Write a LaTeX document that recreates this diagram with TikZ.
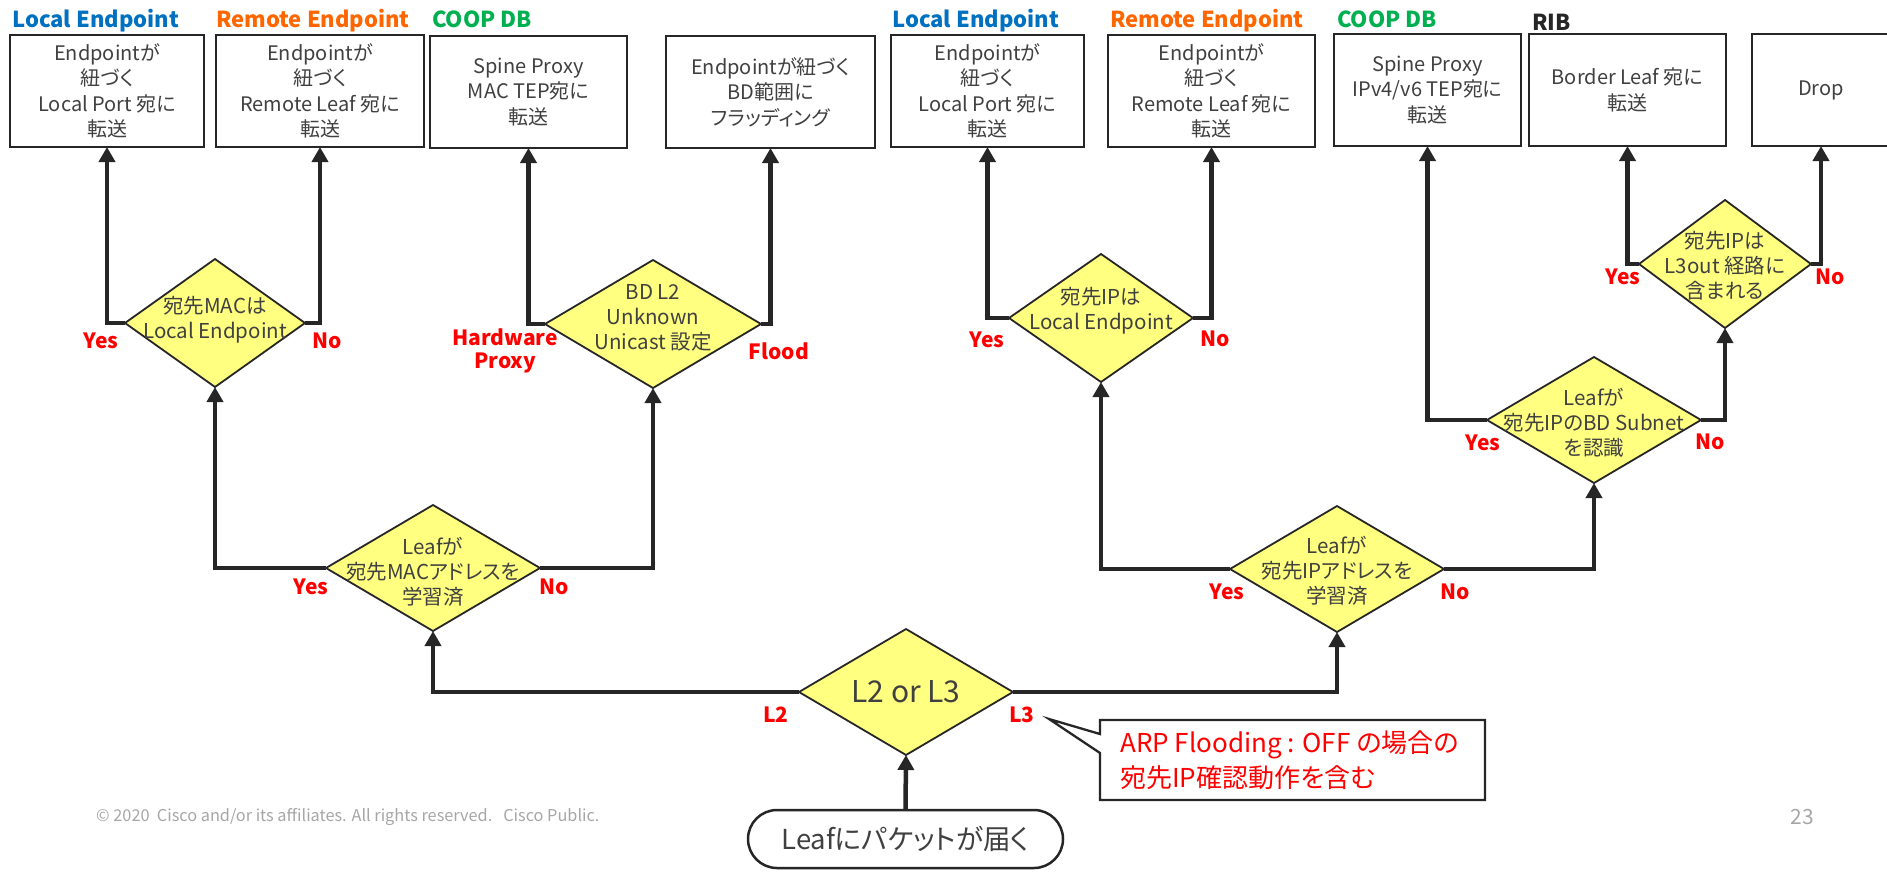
\documentclass[tikz,border=0pt]{standalone}
\usepackage{fontspec}
\setmainfont{Noto Sans CJK JP}[RawFeature=+palt]
\usetikzlibrary{arrows.meta,shapes.geometric,calc}
\definecolor{ink}{RGB}{38,38,38}
\definecolor{txt}{RGB}{64,64,64}
\definecolor{dfill}{RGB}{255,255,128}
\definecolor{lblue}{RGB}{0,112,192}
\definecolor{lorange}{RGB}{255,102,0}
\definecolor{lgreen}{RGB}{0,176,80}
\definecolor{yesred}{RGB}{255,0,0}
\definecolor{foot}{RGB}{166,166,166}
\begin{document}
\begin{tikzpicture}[x=1pt,y=-1pt,
  box/.style={draw=ink, line width=2.5pt, fill=white, rectangle, inner sep=0pt, outer sep=0pt,
    minimum height=112pt, align=center, text=txt, font=\fontsize{20}{25.5}\selectfont},
  dia/.style={draw=ink, line width=1.8pt, fill=dfill, shape=diamond, inner sep=0pt, outer sep=0pt},
  dtext/.style={align=center, text=txt, inner sep=0pt, font=\fontsize{20.5}{25}\selectfont},
  conn/.style={draw=ink, line width=4.5pt, -{Triangle[length=15pt,width=16pt]}},
  hdr/.style={anchor=base west, inner sep=0pt, font=\fontsize{22}{26}\selectfont\bfseries},
  yn/.style={text=yesred, inner sep=0pt, align=center, font=\fontsize{21}{23}\selectfont\bfseries},
]
\useasboundingbox (0,0) rectangle (1887,871);

% column headers
\node[hdr, text=lblue]   (h1) at (12,27)   {Local Endpoint};
\node[hdr, text=lorange] (h2) at (216,27)  {Remote Endpoint};
\node[hdr, text=lgreen]  (h3) at (432,27)  {COOP DB};
\node[hdr, text=lblue]   (h4) at (892,27)  {Local Endpoint};
\node[hdr, text=lorange] (h5) at (1110,27) {Remote Endpoint};
\node[hdr, text=lgreen]  (h6) at (1337,27) {COOP DB};
\node[hdr, text=ink]     (h7) at (1532,30) {RIB};

% result boxes
\node[box, minimum width=194pt] (b1) at (107,91)    {Endpointが\\紐づく\\Local Port 宛に\\転送};
\node[box, minimum width=208pt] (b2) at (320,91)    {Endpointが\\紐づく\\Remote Leaf 宛に\\転送};
\node[box, minimum width=197pt] (b3) at (528.5,92)  {Spine Proxy\\MAC TEP宛に\\転送};
\node[box, minimum width=209pt] (b4) at (770.5,92)  {Endpointが紐づく\\BD範囲に\\フラッディング};
\node[box, minimum width=193pt] (b5) at (987.5,91)  {Endpointが\\紐づく\\Local Port 宛に\\転送};
\node[box, minimum width=207pt] (b6) at (1211.5,91) {Endpointが\\紐づく\\Remote Leaf 宛に\\転送};
\node[box, minimum width=187pt] (b7) at (1427.5,90) {Spine Proxy\\IPv4/v6 TEP宛に\\転送};
\node[box, minimum width=197pt] (b8) at (1627.5,90) {Border Leaf 宛に\\転送};
\node[box, minimum width=138pt] (b9) at (1821,90)   {Drop};

% decisions
\node[dia, minimum width=180pt, minimum height=128pt] (d1) at (215,323)  {};
\node[dia, minimum width=216pt, minimum height=128pt] (d2) at (653,324)  {};
\node[dia, minimum width=184pt, minimum height=128pt] (d3) at (1101,318) {};
\node[dia, minimum width=172pt, minimum height=128pt] (d4) at (1725,264) {};
\node[dia, minimum width=214pt, minimum height=126pt] (d5) at (1594,420) {};
\node[dia, minimum width=214pt, minimum height=126pt] (d6) at (433,568)  {};
\node[dia, minimum width=214pt, minimum height=126pt] (d7) at (1337,569) {};
\node[dia, minimum width=214pt, minimum height=126pt] (d8) at (906,692)  {};

\node[dtext] (t1) at (215,320)  {宛先MACは\\Local Endpoint};
\node[dtext] (t2) at (653,318)  {BD L2\\Unknown\\Unicast 設定};
\node[dtext] (t3) at (1101,311) {宛先IPは\\Local Endpoint};
\node[dtext] (t4) at (1725,266) {宛先IPは\\L3out 経路に\\含まれる};
\node[dtext] (t5) at (1594,423) {Leafが\\宛先IPのBD Subnet\\を認識};
\node[dtext] (t6) at (433,572)  {Leafが\\宛先MACアドレスを\\学習済};
\node[dtext] (t7) at (1337,571) {Leafが\\宛先IPアドレスを\\学習済};
\node[dtext, font=\fontsize{30}{34}\selectfont] (t8) at (906,692) {L2 or L3};

% entry point
\node[draw=ink, line width=2.5pt, fill=white, rounded corners=29pt, minimum width=315pt,
  minimum height=58pt, inner sep=0pt, outer sep=0pt, text=txt,
  font=\fontsize{27.5}{32}\selectfont] (start) at (905.5,839) {Leafにパケットが届く};

% connectors
\draw[conn] (start.north) -- (d8.south);
\draw[conn] (d8.west) -| (d6.south);
\draw[conn] (d8.east) -| (d7.south);
\draw[conn] (d6.west) -| (d1.south);
\draw[conn] (d6.east) -| (d2.south);
\draw[conn] (d7.west) -| (d3.south);
\draw[conn] (d7.east) -| (d5.south);
\draw[conn] (d5.west) -| (b7.south);
\draw[conn] (d5.east) -| (d4.south);
\draw[conn] (d1.west) -| (b1.south);
\draw[conn] (d1.east) -| (b2.south);
\draw[conn] (d2.west) -| (b3.south);
\draw[conn] (d2.east) -| (b4.south);
\draw[conn] (d3.west) -| (b5.south);
\draw[conn] (d3.east) -| (b6.south);
\draw[conn] (d4.west) -| (b8.south);
\draw[conn] (d4.east) -| (b9.south);

% branch labels
\node[yn] (y1) at (101,341)  {Yes};
\node[yn] (n1) at (327,341)  {No};
\node[yn] (y2) at (505,351)  {Hardware\\Proxy};
\node[yn] (n2) at (779,351)  {Flood};
\node[yn] (y3) at (987,340)  {Yes};
\node[yn] (n3) at (1215,339) {No};
\node[yn] (y4) at (1623,277) {Yes};
\node[yn] (n4) at (1830,277) {No};
\node[yn] (y5) at (1483,443) {Yes};
\node[yn] (n5) at (1710,442) {No};
\node[yn] (y6) at (311,587)  {Yes};
\node[yn] (n6) at (554,587)  {No};
\node[yn] (y7) at (1227,592) {Yes};
\node[yn] (n7) at (1455,592) {No};
\node[yn] (l2) at (776,715)  {L2};
\node[yn] (l3) at (1022,715) {L3};

% note with pointer
\node[inner sep=0pt, outer sep=0pt, minimum width=385pt, minimum height=80pt] (frame) at (1292.5,760) {};
\node[anchor=west, inner sep=0pt, align=left, text=yesred, font=\fontsize{26}{35}\selectfont]
  (note) at (1120,760.5) {ARP Flooding : OFF の場合の\\宛先IP確認動作を含む};
\coordinate (tip) at (1049,719);
\draw[draw=ink, line width=2.3pt, line join=miter]
  (frame.north west) -- (frame.north east) -- (frame.south east) -- (frame.south west)
  -- ($(frame.north west)+(0,33)$) -- (tip) -- ($(frame.north west)+(0,14)$) -- cycle;

% footer
\node[anchor=west, text=foot, inner sep=0pt, font=\fontsize{16.3}{19}\selectfont] (copy) at (96,817)
  {© 2020\ \ Cisco and/or its affiliates. All rights reserved.\ \ \ Cisco Public.};
\node[text=foot, inner sep=0pt, font=\fontsize{21}{24}\selectfont] (pg) at (1802,817) {23};
\end{tikzpicture}
\end{document}
